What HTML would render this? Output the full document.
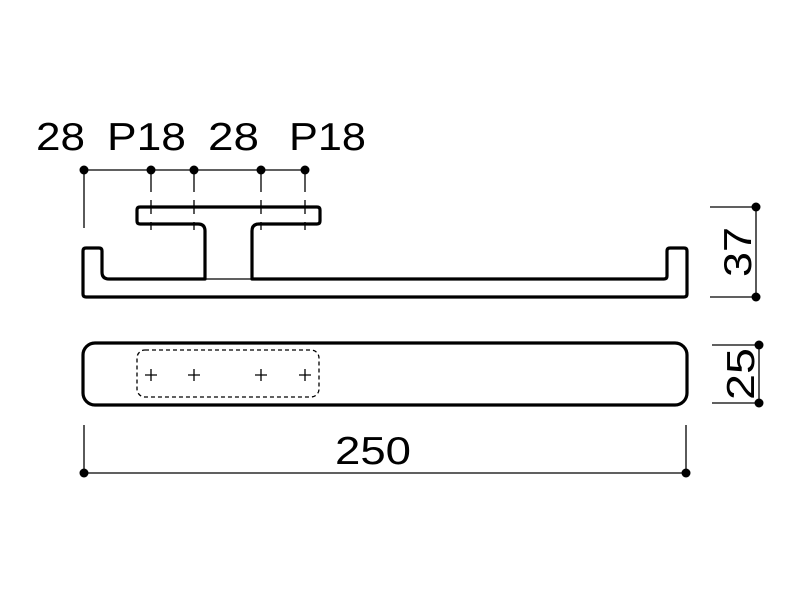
<!DOCTYPE html>
<html><head><style>body{margin:0;background:#fff}svg{display:block}</style></head>
<body>
<svg width="800" height="600" viewBox="0 0 800 600" xmlns="http://www.w3.org/2000/svg" font-family="Liberation Sans, sans-serif">
<rect width="800" height="600" fill="#fff"/>
<g font-size="39" fill="#000">
<text x="36" y="150" textLength="49" lengthAdjust="spacingAndGlyphs">28</text>
<text x="107" y="150" textLength="79" lengthAdjust="spacingAndGlyphs">P18</text>
<text x="208" y="150" textLength="51" lengthAdjust="spacingAndGlyphs">28</text>
<text x="289" y="150" textLength="77" lengthAdjust="spacingAndGlyphs">P18</text>
<text x="373" y="464" text-anchor="middle" textLength="76" lengthAdjust="spacingAndGlyphs">250</text>
<text transform="translate(751,252) rotate(-90)" text-anchor="middle" textLength="50" lengthAdjust="spacingAndGlyphs">37</text>
<text transform="translate(754,374) rotate(-90)" text-anchor="middle" textLength="52" lengthAdjust="spacingAndGlyphs">25</text>
</g>
<g stroke="#000" stroke-width="1.3" fill="none">
<line x1="84" y1="170" x2="305" y2="170"/>
<line x1="84" y1="170" x2="84" y2="228"/>
<g stroke-dasharray="22,8,14,8,8">
<line x1="151" y1="170" x2="151" y2="242"/>
<line x1="194" y1="170" x2="194" y2="242"/>
<line x1="261" y1="170" x2="261" y2="242"/>
<line x1="305" y1="170" x2="305" y2="242"/>
</g>
<line x1="205" y1="279" x2="252" y2="279"/>
<line x1="756" y1="207" x2="756" y2="297"/>
<line x1="710" y1="207" x2="756" y2="207"/>
<line x1="710" y1="297" x2="756" y2="297"/>
<line x1="759" y1="345" x2="759" y2="403"/>
<line x1="712" y1="345" x2="759" y2="345"/>
<line x1="712" y1="403" x2="759" y2="403"/>
<line x1="84" y1="473" x2="686" y2="473"/>
<line x1="84" y1="425" x2="84" y2="473"/>
<line x1="686" y1="425" x2="686" y2="473"/>
<rect x="137" y="350" width="182" height="47" rx="8" stroke-dasharray="4,3"/>
<path d="M145 375h12M151 369v12M188 375h12M194 369v12M255 375h12M261 369v12M299 375h12M305 369v12"/>
</g>
<g stroke="#000" stroke-width="3.2" fill="none" stroke-linejoin="round">
<path d="M140 207 H317 Q320 207 320 210 V221 Q320 224 317 224 H259 Q252 224 252 231 V279 H664 Q667 279 667 276 V251 Q667 248 670 248 H684 Q687 248 687 251 V294 Q687 297 684 297 H86 Q83 297 83 294 V251 Q83 248 86 248 H99 Q102 248 102 251 V272 Q102 279 109 279 H205 V231 Q205 224 198 224 H140 Q137 224 137 221 V210 Q137 207 140 207 Z"/>
<rect x="83" y="343" width="604" height="62" rx="12"/>
</g>
<g fill="#000">
<circle cx="84" cy="170" r="4.5"/><circle cx="151" cy="170" r="4.5"/><circle cx="194" cy="170" r="4.5"/><circle cx="261" cy="170" r="4.5"/><circle cx="305" cy="170" r="4.5"/>
<circle cx="756" cy="207" r="4.5"/><circle cx="756" cy="297" r="4.5"/>
<circle cx="759" cy="345" r="4.5"/><circle cx="759" cy="403" r="4.5"/>
<circle cx="84" cy="473" r="4.5"/><circle cx="686" cy="473" r="4.5"/>
</g>
</svg>
</body></html>
